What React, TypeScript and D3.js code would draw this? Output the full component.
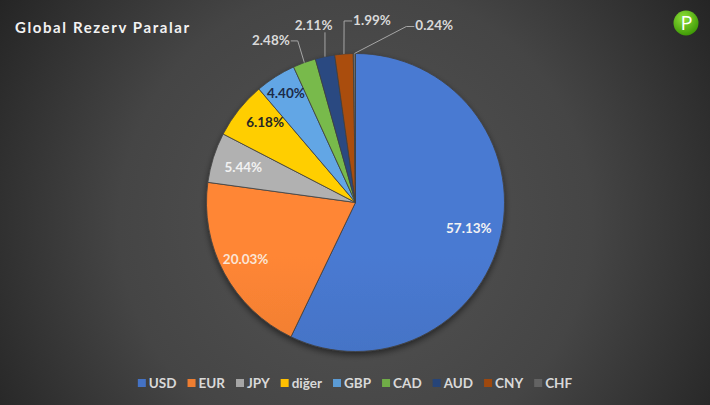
import React, { useEffect, useRef } from "react";
import * as d3 from "d3";

const categories = ["USD", "EUR", "JPY", "diğer", "GBP", "CAD", "AUD", "CNY", "CHF"];
const shares = [57.13, 20.03, 5.44, 6.18, 4.4, 2.48, 2.11, 1.99, 0.24];
const labels = ["57.13%", "20.03%", "5.44%", "6.18%", "4.40%", "2.48%", "2.11%", "1.99%", "0.24%"];
const colors = ["#4472C4", "#ED7D31", "#A5A5A5", "#FFC000", "#5B9BD5", "#70AD47", "#264478", "#9E480E", "#636363"];
const labelColors = ["#f2f2f2", "#fbe5d6", "#f2f2f2", "#262626", "#1c2b48", "#d9d9d9", "#d9d9d9", "#d9d9d9", "#d9d9d9"];
const outside = [false, false, false, false, false, true, true, true, true];
// layout: radial factor for inside labels / angular shift (deg) for outside labels
const labelRadius = [0.78, 0.83, 0.79, 0.81, 0.87, 1.23, 1.22, 1.23, 1.3];
const labelShift = [0, 1, 0, 3, 0, -7.4, -1.5, 9.6, 24.4];

const W = 710, H = 405;
const CX = 355.5, CY = 202.5, R = 149;

export default function App() {
  const ref = useRef<SVGSVGElement>(null);
  useEffect(() => {
    document.body.style.margin = "0";
    const svg = d3.select(ref.current);
    svg.selectAll("*").remove();
    const defs = svg.append("defs");
    const bg = defs.append("radialGradient").attr("id", "bg").attr("gradientUnits", "userSpaceOnUse")
      .attr("cx", CX).attr("cy", CY + 20).attr("r", 430);
    bg.append("stop").attr("offset", "0").attr("stop-color", "#545454");
    bg.append("stop").attr("offset", "0.55").attr("stop-color", "#454545");
    bg.append("stop").attr("offset", "1").attr("stop-color", "#232323");
    svg.append("rect").attr("width", W).attr("height", H).attr("fill", "url(#bg)");

    const sh = defs.append("filter").attr("id", "sh").attr("x", "-20%").attr("y", "-20%").attr("width", "140%").attr("height", "140%");
    sh.append("feGaussianBlur").attr("in", "SourceAlpha").attr("stdDeviation", 3);
    sh.append("feOffset").attr("dy", 3).attr("result", "b");
    sh.append("feComponentTransfer").append("feFuncA").attr("type", "linear").attr("slope", 0.5);
    const m = sh.append("feMerge");
    m.append("feMergeNode");
    m.append("feMergeNode").attr("in", "SourceGraphic");

    colors.forEach((c, i) => {
      const g = defs.append("linearGradient").attr("id", "g" + i).attr("gradientUnits", "userSpaceOnUse")
        .attr("x1", 0).attr("y1", CY - R).attr("x2", 0).attr("y2", CY + R);
      g.append("stop").attr("offset", "0").attr("stop-color", d3.color(c)!.brighter(0.2).toString());
      g.append("stop").attr("offset", "1").attr("stop-color", d3.color(c)!.darker(0.35).toString());
    });

    const pie = d3.pie<number>().sort(null).value((d) => d)(shares);
    const arc = d3.arc<d3.PieArcDatum<number>>().innerRadius(0).outerRadius(R);
    const gp = svg.append("g").attr("transform", `translate(${CX},${CY})`);
    gp.append("g").attr("filter", "url(#sh)").selectAll("path").data(pie).join("path")
      .attr("d", arc as any)
      .attr("fill", (_d, i) => `url(#g${i})`)
      .attr("stroke", "#404040").attr("stroke-width", 0.8);

    const font = "Lato, 'Open Sans', sans-serif";
    pie.forEach((p, i) => {
      const mid = (p.startAngle + p.endAngle) / 2;
      const a = mid + (labelShift[i] * Math.PI) / 180;
      const rr = R * labelRadius[i];
      const lx = Math.sin(a) * rr, ly = -Math.cos(a) * rr;
      const t = gp.append("text").attr("x", lx).attr("y", ly).attr("dy", "0.35em")
        .attr("text-anchor", "middle").attr("font-family", font).attr("font-weight", 700)
        .attr("font-size", 13.5).attr("fill", labelColors[i]).text(labels[i]);
      if (outside[i]) {
        const ex = Math.sin(mid) * R, ey = -Math.cos(mid) * R;
        const bb = (t.node() as SVGTextElement).getBBox();
        const left = bb.x - 1, right = bb.x + bb.width + 1, bottom = bb.y + bb.height - 1;
        let pts: [number, number][];
        if (ex >= left && ex <= right) pts = [[ex, bottom], [ex, ey]];
        else if (ex > right) pts = [[right, ly + 1], [right + 7, ly + 1], [ex, ey]];
        else pts = [[left, ly + 1], [left - 8, ly + 1], [ex, ey]];
        gp.insert("path", "text").attr("d", d3.line()(pts)!).attr("fill", "none")
          .attr("stroke", "#a6a6a6").attr("stroke-width", 1);
      }
    });

    svg.append("text").attr("x", 15).attr("y", 33).attr("font-family", font).attr("font-weight", 700)
      .attr("font-size", 15).attr("letter-spacing", 1.6).attr("fill", "#f2f2f2").text("Global Rezerv Paralar");

    // legend
    const lg = svg.append("g");
    const items = categories.map((c, i) => {
      const g = lg.append("g");
      g.append("rect").attr("x", 0).attr("y", -4).attr("width", 8).attr("height", 8).attr("fill", colors[i]);
      const t = g.append("text").attr("x", 11).attr("y", 0).attr("dy", "0.35em").attr("font-family", font)
        .attr("font-weight", 700).attr("font-size", 13.5).attr("fill", "#d9d9d9").text(c);
      return { g, w: 11 + (t.node() as SVGTextElement).getComputedTextLength() };
    });
    const gap = 11;
    const total = d3.sum(items, (d) => d.w) + gap * (items.length - 1);
    let x = (W - total) / 2;
    items.forEach((it) => {
      it.g.attr("transform", `translate(${x},383)`);
      x += it.w + gap;
    });

    // logo
    const lgG = defs.append("radialGradient").attr("id", "logo").attr("cx", "40%").attr("cy", "30%").attr("r", "70%");
    lgG.append("stop").attr("offset", "0").attr("stop-color", "#8fe03a");
    lgG.append("stop").attr("offset", "1").attr("stop-color", "#3f9a06");
    svg.append("circle").attr("cx", 686).attr("cy", 23).attr("r", 12.5).attr("fill", "url(#logo)");
    svg.append("text").attr("x", 686.5).attr("y", 23).attr("dy", "0.36em").attr("text-anchor", "middle")
      .attr("font-family", "'Open Sans', sans-serif").attr("font-size", 20).attr("fill", "#ffffff").text("P");
  }, []);
  return <svg ref={ref} width={W} height={H} style={{ display: "block" }} />;
}
